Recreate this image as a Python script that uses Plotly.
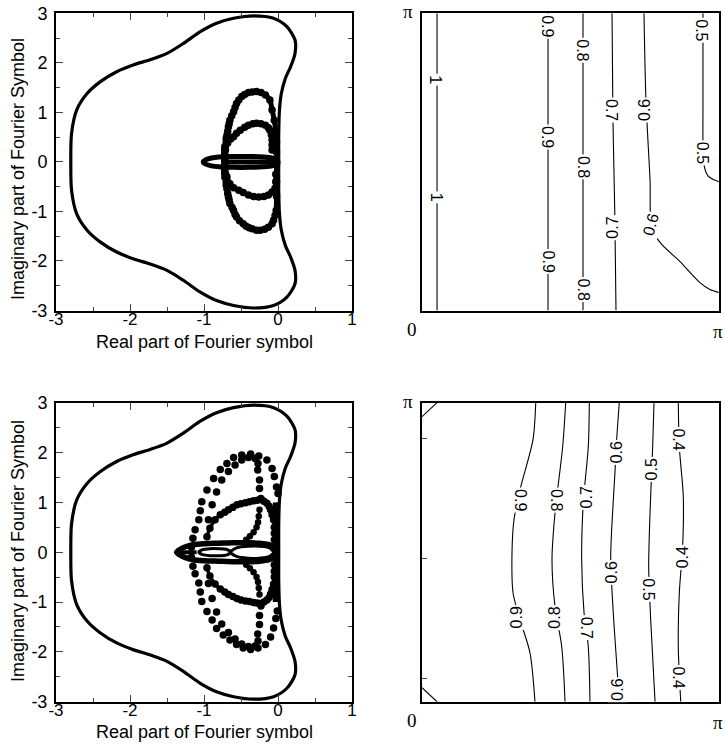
import plotly.graph_objects as go

PI = 3.14159

# ---------------- left panels: Fourier symbol ----------------
OUTER_RE = [0.01, 0.01, 0.02, 0.045, 0.10, 0.17, 0.23, 0.23, 0.12, -0.06, -0.33, -0.60, -0.83, -1.05, -1.28,
            -1.50, -1.73, -1.95, -2.18, -2.40, -2.58, -2.72, -2.79, -2.80,
            -2.79, -2.72, -2.58, -2.40, -2.18, -1.95, -1.73, -1.50, -1.28, -1.05, -0.83, -0.60, -0.33,
            -0.06, 0.12, 0.23, 0.23, 0.17, 0.10, 0.045, 0.02, 0.01, 0.01]
OUTER_IM = [0.0, 0.57, 1.05, 1.38, 1.69, 1.92, 2.19, 2.46, 2.73, 2.90, 2.95, 2.90, 2.80, 2.63, 2.39,
            2.19, 2.06, 1.96, 1.82, 1.62, 1.38, 1.05, 0.57, 0.0,
            -0.57, -1.05, -1.38, -1.62, -1.82, -1.96, -2.06, -2.19, -2.39, -2.63, -2.80, -2.90, -2.95,
            -2.90, -2.73, -2.46, -2.19, -1.92, -1.69, -1.38, -1.05, -0.57, 0.0]

# top-left panel inner structures
TL_LOOP1_UP_RE = [-0.72, -0.72, -0.71, -0.71, -0.70, -0.70, -0.69, -0.68, -0.67, -0.66, -0.65, -0.625, -0.60, -0.58,
                  -0.56, -0.53, -0.49, -0.45, -0.40, -0.35, -0.29, -0.23, -0.17, -0.11, -0.08, -0.05, -0.03, -0.02,
                  -0.02, -0.02]
TL_LOOP1_UP_IM = [0.05, 0.15, 0.24, 0.32, 0.40, 0.47, 0.54, 0.62, 0.71, 0.77, 0.84, 0.93, 1.01, 1.10,
                  1.18, 1.25, 1.32, 1.36, 1.40, 1.41, 1.42, 1.40, 1.35, 1.25, 1.05, 0.84, 0.60, 0.40,
                  0.20, 0.0]
TL_LOOP1_DN_RE = [-0.72, -0.72, -0.71, -0.71, -0.70, -0.70, -0.69, -0.68, -0.67, -0.66, -0.65, -0.62, -0.60, -0.58,
                  -0.56, -0.52, -0.47, -0.43, -0.39, -0.35, -0.29, -0.24, -0.18, -0.13, -0.08, -0.06, -0.04, -0.025,
                  -0.02, -0.02, -0.02]
TL_LOOP1_DN_IM = [-0.05, -0.15, -0.24, -0.32, -0.40, -0.47, -0.54, -0.64, -0.71, -0.77, -0.84, -0.92, -0.98, -1.06,
                  -1.11, -1.19, -1.25, -1.30, -1.33, -1.35, -1.38, -1.38, -1.36, -1.32, -1.25, -1.18, -1.08, -0.98,
                  -0.70, -0.40, -0.05]
TL_LOOP2_UP_RE = [-0.72, -0.68, -0.64, -0.60, -0.56, -0.51, -0.45, -0.40, -0.34, -0.29, -0.23, -0.17, -0.13, -0.11,
                  -0.09, -0.08, -0.08, -0.08]
TL_LOOP2_UP_IM = [0.25, 0.38, 0.46, 0.51, 0.58, 0.64, 0.70, 0.74, 0.77, 0.78, 0.77, 0.74, 0.69, 0.64,
                  0.55, 0.44, 0.34, 0.24]
TL_LOOP2_DN_RE = [-0.72, -0.69, -0.65, -0.60, -0.53, -0.47, -0.40, -0.33, -0.26, -0.19, -0.13, -0.08, -0.04, -0.03,
                  -0.03]
TL_LOOP2_DN_IM = [-0.22, -0.30, -0.44, -0.52, -0.57, -0.62, -0.67, -0.70, -0.71, -0.70, -0.67, -0.61, -0.53, -0.40,
                  -0.25]
TL_LEAF_RE = [-1.01, -0.97, -0.90, -0.80, -0.60, -0.40, -0.20, -0.08, -0.02, 0.0, -0.02, -0.08, -0.20, -0.40, -0.60,
              -0.80, -0.90, -0.97, -1.01]
TL_LEAF_IM = [0.0, 0.05, 0.08, 0.10, 0.11, 0.11, 0.10, 0.08, 0.04, 0.0, -0.04, -0.08, -0.10, -0.11, -0.11,
              -0.10, -0.08, -0.05, 0.0]
TL_MID_RE = [-0.74, -0.40, -0.05]
TL_MID_IM = [0.0, 0.0, 0.0]
TL_BAR_RE = [-0.72, -0.72]
TL_BAR_IM = [-0.35, 0.35]

# bottom-left panel inner structures
BL_A_UP_RE = [-1.17, -1.15, -1.12, -1.07, -1.05, -1.03, -0.96, -0.87, -0.78, -0.69, -0.60, -0.49, -0.37, -0.26,
              -0.15, -0.08, -0.05, -0.02, 0.0]
BL_A_UP_IM = [0.10, 0.28, 0.45, 0.65, 0.83, 1.01, 1.25, 1.48, 1.66, 1.78, 1.90, 1.95, 1.97, 1.93,
              1.85, 1.68, 1.52, 1.31, 1.18]
BL_A_DN_RE = [-1.17, -1.15, -1.12, -1.07, -1.05, -1.03, -0.96, -0.89, -0.83, -0.74, -0.65, -0.56, -0.47, -0.37,
              -0.27, -0.17, -0.10, -0.06, -0.03, -0.01]
BL_A_DN_IM = [-0.10, -0.28, -0.43, -0.62, -0.80, -0.99, -1.19, -1.36, -1.53, -1.66, -1.76, -1.85, -1.92, -1.95,
              -1.92, -1.85, -1.70, -1.52, -1.33, -1.18]
BL_B_UP_RE = [-0.94, -0.89, -0.83, -0.76, -0.67, -0.58, -0.49, -0.40, -0.31, -0.27, -0.275, -0.25, -0.25, -0.23]
BL_B_UP_IM = [0.65, 0.95, 1.21, 1.45, 1.62, 1.75, 1.85, 1.90, 1.88, 1.78, 1.65, 1.45, 1.28, 1.08]
BL_B_DN_RE = [-0.94, -0.89, -0.83, -0.76, -0.67, -0.58, -0.49, -0.40, -0.31, -0.27, -0.275, -0.25, -0.25, -0.23]
BL_B_DN_IM = [-0.63, -0.93, -1.20, -1.44, -1.61, -1.74, -1.84, -1.89, -1.88, -1.78, -1.64, -1.45, -1.27, -1.08]
BL_BRANCH_UP_RE = [-0.25, -0.26, -0.27, -0.29, -0.33, -0.38, -0.43]
BL_BRANCH_UP_IM = [0.85, 0.72, 0.60, 0.50, 0.40, 0.32, 0.25]
BL_BRANCH_DN_RE = [-0.25, -0.26, -0.27, -0.29, -0.33, -0.38, -0.43]
BL_BRANCH_DN_IM = [-0.85, -0.72, -0.60, -0.50, -0.40, -0.32, -0.25]
BL_MID_UP_RE = [-0.96, -0.92, -0.85, -0.78, -0.72, -0.67, -0.61, -0.555, -0.50, -0.44, -0.385, -0.33, -0.28, -0.24,
                -0.19, -0.15, -0.12, -0.10, -0.08, -0.06, -0.05, -0.05, -0.05]
BL_MID_UP_IM = [0.31, 0.48, 0.65, 0.75, 0.80, 0.85, 0.90, 0.95, 0.97, 0.99, 1.01, 1.03, 1.04, 1.06,
                1.02, 0.98, 0.92, 0.85, 0.75, 0.65, 0.50, 0.38, 0.25]
BL_MID_DN_RE = [-0.96, -0.92, -0.85, -0.78, -0.72, -0.67, -0.61, -0.555, -0.50, -0.44, -0.385, -0.33, -0.28, -0.24,
                -0.19, -0.15, -0.12, -0.10, -0.08, -0.06, -0.05, -0.05, -0.05]
BL_MID_DN_IM = [-0.31, -0.48, -0.64, -0.74, -0.80, -0.85, -0.89, -0.93, -0.96, -0.98, -0.99, -1.01, -1.02, -1.03,
                -1.00, -0.96, -0.91, -0.84, -0.75, -0.64, -0.50, -0.38, -0.25]
BL_VERT_RE = [-0.03, -0.02, -0.02, -0.02, -0.03]
BL_VERT_IM = [-1.0, -0.5, 0.0, 0.5, 1.0]
BL_LEAF_RE = [-1.37, -1.32, -1.25, -1.15, -1.0, -0.8, -0.6, -0.4, -0.25, -0.12, -0.05, -0.02, -0.05, -0.12, -0.25,
              -0.4, -0.6, -0.8, -1.0, -1.15, -1.25, -1.32, -1.37]
BL_LEAF_IM = [0.0, 0.06, 0.11, 0.15, 0.17, 0.18, 0.19, 0.19, 0.18, 0.15, 0.10, 0.0, -0.10, -0.15, -0.18,
              -0.19, -0.19, -0.18, -0.17, -0.15, -0.11, -0.06, 0.0]
BL_SMALL_RE = [-1.07, -1.02, -0.92, -0.80, -0.70, -0.64, -0.70, -0.80, -0.92, -1.02, -1.07]
BL_SMALL_IM = [0.0, 0.05, 0.07, 0.07, 0.06, 0.0, -0.06, -0.07, -0.07, -0.05, 0.0]
BL_RIGHT_RE = [-0.64, -0.55, -0.40, -0.25, -0.12, -0.06, -0.12, -0.25, -0.40, -0.55, -0.64]
BL_RIGHT_IM = [0.0, 0.09, 0.12, 0.12, 0.09, 0.0, -0.09, -0.12, -0.12, -0.09, 0.0]
BL_TIP_RE = [-1.37, -1.10]
BL_TIP_IM = [0.0, 0.0]

X_TICKS = [-3, -2, -1, 0, 1]
X_TICK_TEXT = ["-3", "-2", "-1", "0", "1"]
Y_TICKS = [-3, -2, -1, 0, 1, 2, 3]
Y_TICK_TEXT = ["-3", "-2", "-1", "0", "1", "2", "3"]
X_TITLE = "Real part of Fourier symbol"
Y_TITLE = "Imaginary part of Fourier Symbol"

# ---------------- right panels: contour lines ----------------
TR_CONTOURS = {
    "1": ([0.159, 0.159], [0.0, PI]),
    "0.9": ([1.333, 1.333], [0.0, PI]),
    "0.8": ([1.703, 1.703], [0.0, PI]),
    "0.7": ([2.01, 2.02, 2.04, 2.052], [PI, 2.0, 1.0, 0.0]),
    "0.6": ([2.348, 2.369, 2.412, 2.433, 2.539, 2.729, 2.94, 3.046, PI],
            [PI, 2.224, 1.381, 0.854, 0.696, 0.517, 0.295, 0.221, 0.190]),
    "0.5": ([2.972, 2.972, 2.983, 3.025, 3.088, PI], [PI, 2.224, 1.539, 1.423, 1.381, 1.360]),
}
TR_LABELS = [("1", 0.148, 2.435, 90), ("1", 0.148, 1.191, 90),
             ("0.9", 1.333, 3.005, 90), ("0.9", 1.333, 1.834, 90), ("0.9", 1.333, 0.517, 90),
             ("0.8", 1.703, 2.751, 90), ("0.8", 1.703, 1.518, 90), ("0.8", 1.703, 0.221, 90),
             ("0.7", 2.01, 2.119, 90), ("0.7", 2.02, 0.875, -90),
             ("0.6", 2.348, 2.119, -90), ("0.6", 2.422, 0.907, -75),
             ("0.5", 2.962, 2.962, 90), ("0.5", 2.962, 1.666, 90)]

BR_CONTOURS = {
    "0.9": ([1.203, 1.174, 1.037, 0.973, 0.952, 0.963, 1.037, 1.142, 1.195],
            [PI, 2.753, 2.228, 1.912, 1.566, 1.145, 0.862, 0.515, 0.0]),
    "0.8": ([1.520, 1.488, 1.407, 1.375, 1.407, 1.478, 1.513], [PI, 2.679, 1.986, 1.492, 0.998, 0.578, 0.0]),
    "0.7": ([1.770, 1.759, 1.706, 1.689, 1.714, 1.759, 1.777], [PI, 2.679, 2.091, 1.492, 0.935, 0.578, 0.0]),
    "0.6": ([2.087, 2.059, 2.041, 2.006, 1.996, 2.023, 2.059, 2.087],
            [PI, 2.753, 2.406, 1.807, 1.492, 0.935, 0.410, 0.0]),
    "0.5": ([2.454, 2.440, 2.412, 2.398, 2.419, 2.465], [PI, 2.679, 1.986, 1.418, 0.862, 0.0]),
    "0.4": ([2.711, 2.722, 2.764, 2.757, 2.722, 2.711, 2.737], [PI, 2.679, 2.154, 1.629, 1.145, 0.578, 0.0]),
    "1a": ([0.0, 0.159], [2.995, PI]),
    "1b": ([0.0, 0.159], [0.147, 0.0]),
}
BR_LABELS = [("0.9", 1.044, 2.122, 90), ("0.9", 1.002, 0.883, -90),
             ("0.8", 1.424, 2.122, 90), ("0.8", 1.407, 0.883, -90),
             ("0.7", 1.742, 2.143, -90), ("0.7", 1.735, 0.778, 90),
             ("0.6", 2.059, 2.616, -90), ("0.6", 2.006, 1.355, -90), ("0.6", 2.073, 0.126, -90),
             ("0.5", 2.429, 2.437, -90), ("0.5", 2.394, 1.177, 90),
             ("0.4", 2.711, 2.753, 90), ("0.4", 2.757, 1.513, -90), ("0.4", 2.711, 0.252, 90)]
BR_YTICKS = [0.242, 1.502, 2.763]

W, H = 725, 748
SANS = "Liberation Sans, Arial, Helvetica, sans-serif"
SERIF = "Liberation Serif, Times New Roman, serif"

fig = go.Figure()


def add_line(xs, ys, ax, width=1.0, mode="lines", msize=7, spline=False):
    fig.add_trace(go.Scatter(
        x=xs, y=ys, mode=mode, xaxis="x" + ax, yaxis="y" + ax,
        line=dict(color="black", width=width, shape="spline" if spline else "linear", smoothing=0.8),
        marker=dict(color="black", size=msize),
        hoverinfo="skip", showlegend=False))


for ax in ["", "3"]:
    add_line(OUTER_RE, OUTER_IM, ax, width=3.2, spline=True)

# top-left
for xs, ys in [(TL_LOOP1_UP_RE, TL_LOOP1_UP_IM), (TL_LOOP1_DN_RE, TL_LOOP1_DN_IM),
               (TL_LOOP2_UP_RE, TL_LOOP2_UP_IM), (TL_LOOP2_DN_RE, TL_LOOP2_DN_IM)]:
    add_line(xs, ys, "", width=5, mode="lines+markers", msize=7.5, spline=True)
add_line(TL_LEAF_RE, TL_LEAF_IM, "", width=5, spline=True)
add_line(TL_MID_RE, TL_MID_IM, "", width=5)
add_line(TL_BAR_RE, TL_BAR_IM, "", width=7)

# bottom-left
for xs, ys in [(BL_A_UP_RE, BL_A_UP_IM), (BL_A_DN_RE, BL_A_DN_IM),
               (BL_B_UP_RE, BL_B_UP_IM), (BL_B_DN_RE, BL_B_DN_IM)]:
    add_line(xs, ys, "3", mode="markers", msize=7.5)
for xs, ys in [(BL_BRANCH_UP_RE, BL_BRANCH_UP_IM), (BL_BRANCH_DN_RE, BL_BRANCH_DN_IM)]:
    add_line(xs, ys, "3", width=2.5, mode="lines+markers", msize=6.5, spline=True)
for xs, ys in [(BL_MID_UP_RE, BL_MID_UP_IM), (BL_MID_DN_RE, BL_MID_DN_IM)]:
    add_line(xs, ys, "3", width=3.5, mode="lines+markers", msize=7.5, spline=True)
add_line(BL_VERT_RE, BL_VERT_IM, "3", width=6)
add_line(BL_LEAF_RE, BL_LEAF_IM, "3", width=5.5, spline=True)
add_line(BL_SMALL_RE, BL_SMALL_IM, "3", width=3, spline=True)
add_line(BL_RIGHT_RE, BL_RIGHT_IM, "3", width=3, spline=True)
add_line(BL_TIP_RE, BL_TIP_IM, "3", width=4)

# right panels contours
for k, (xs, ys) in TR_CONTOURS.items():
    add_line(xs, ys, "2", width=1.1, spline=True)
for k, (xs, ys) in BR_CONTOURS.items():
    add_line(xs, ys, "4", width=1.1, spline=True)

annotations = []
for txt, x, y, ang in TR_LABELS:
    annotations.append(dict(text=txt, x=x, y=y, xref="x2", yref="y2", showarrow=False, textangle=ang,
                            bgcolor="white", borderpad=1, font=dict(family=SANS, size=16, color="black")))
for txt, x, y, ang in BR_LABELS:
    annotations.append(dict(text=txt, x=x, y=y, xref="x4", yref="y4", showarrow=False, textangle=ang,
                            bgcolor="white", borderpad=1, font=dict(family=SANS, size=16, color="black")))


def paper(px, py):
    return px / W, 1 - py / H


# axis titles for the left panels
for cy_title, cx_title_y in [(169, 342), (551, 732)]:
    x0, y0 = paper(204, cx_title_y)
    annotations.append(dict(text=X_TITLE, x=x0, y=y0, xref="paper", yref="paper", showarrow=False,
                            xanchor="center", yanchor="middle", font=dict(family=SANS, size=18, color="black")))
    x1, y1 = paper(18, cy_title)
    annotations.append(dict(text=Y_TITLE, x=x1, y=y1, xref="paper", yref="paper", showarrow=False,
                            textangle=-90, xanchor="center", yanchor="middle",
                            font=dict(family=SANS, size=18, color="black")))

# pi / 0 corner labels of the right panels
for txt, px, py in [("π", 408, 12), ("0", 412, 329), ("π", 718, 331),
                    ("π", 408, 401), ("0", 412, 720), ("π", 718, 722)]:
    x, y = paper(px, py)
    annotations.append(dict(text=txt, x=x, y=y, xref="paper", yref="paper", showarrow=False,
                            xanchor="center", yanchor="middle", font=dict(family=SERIF, size=19, color="black")))

left_x = dict(range=[-3, 1], tickvals=X_TICKS, ticktext=X_TICK_TEXT, ticks="inside", ticklen=7, tickwidth=1.3,
              minor=dict(tickvals=[-2.5, -1.5, -0.5, 0.5], ticks="inside", ticklen=4, tickwidth=1),
              showline=True, mirror="allticks", linecolor="black", linewidth=2, showgrid=False, zeroline=False,
              tickfont=dict(family=SANS, size=17, color="black"), ticklabelstandoff=-8)
left_y = dict(range=[-3, 3], tickvals=Y_TICKS, ticktext=Y_TICK_TEXT, ticks="inside", ticklen=7, tickwidth=1.3,
              minor=dict(tickvals=[-2.5, -1.5, -0.5, 0.5, 1.5, 2.5], ticks="inside", ticklen=4, tickwidth=1),
              showline=True, mirror="allticks", linecolor="black", linewidth=2, showgrid=False, zeroline=False,
              tickfont=dict(family=SANS, size=18, color="black"), ticklabelstandoff=3)
right_x = dict(range=[0, PI], showline=True, mirror=True, linecolor="black", linewidth=2, showgrid=False,
               zeroline=False, showticklabels=False, ticks="")
right_y = dict(range=[0, PI], showline=True, mirror=True, linecolor="black", linewidth=2, showgrid=False,
               zeroline=False, showticklabels=False, ticks="")

lx = [56 / W, 352 / W]
rx = [422 / W, 719 / W]
ty = [1 - 310.5 / H, 1 - 13.3 / H]
by = [1 - 701.7 / H, 1 - 402.7 / H]

fig.update_layout(
    width=W, height=H, margin=dict(l=0, r=0, t=0, b=0, autoexpand=False),
    paper_bgcolor="white", plot_bgcolor="white", showlegend=False,
    xaxis=dict(left_x, domain=lx, anchor="y"),
    yaxis=dict(left_y, domain=ty, anchor="x"),
    xaxis2=dict(right_x, domain=rx, anchor="y2"),
    yaxis2=dict(right_y, domain=ty, anchor="x2"),
    xaxis3=dict(left_x, domain=lx, anchor="y3"),
    yaxis3=dict(left_y, domain=by, anchor="x3"),
    xaxis4=dict(right_x, domain=rx, anchor="y4"),
    yaxis4=dict(right_y, domain=by, anchor="x4", tickvals=BR_YTICKS, ticks="inside", ticklen=5, tickwidth=1),
    annotations=annotations,
)

fig.write_html("out.html", post_script="document.body.style.margin='0px';document.body.style.overflow='hidden';")
